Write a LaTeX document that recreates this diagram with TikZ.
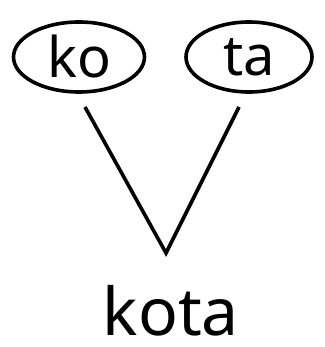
\documentclass[tikz,border=0pt]{standalone}
\usepackage{fontspec}
\setmainfont{Noto Sans}
\usetikzlibrary{shapes.geometric}
\begin{document}
\begin{tikzpicture}[x=1pt,y=-1pt,
  syl/.style={draw, line width=3.6pt, ellipse, minimum width=131pt, minimum height=70pt, inner sep=0pt, font=\fontsize{56}{60}\selectfont},
  lnk/.style={line width=3.6pt, line join=miter}]
\useasboundingbox (0,0) rectangle (324,347);
\node[syl] (ko) at (79,57) {ko};
\node[syl, minimum width=126pt] (ta) at (249,57) {ta};
\coordinate (kol) at (85,107);
\coordinate (tal) at (239,107);
\coordinate (apex) at (166,253);
\node[font=\fontsize{66}{72}\selectfont, anchor=base, inner sep=0pt] (word) at (171,335) {kota};
\draw[lnk] (kol) -- (apex) -- (tal);
\end{tikzpicture}
\end{document}
